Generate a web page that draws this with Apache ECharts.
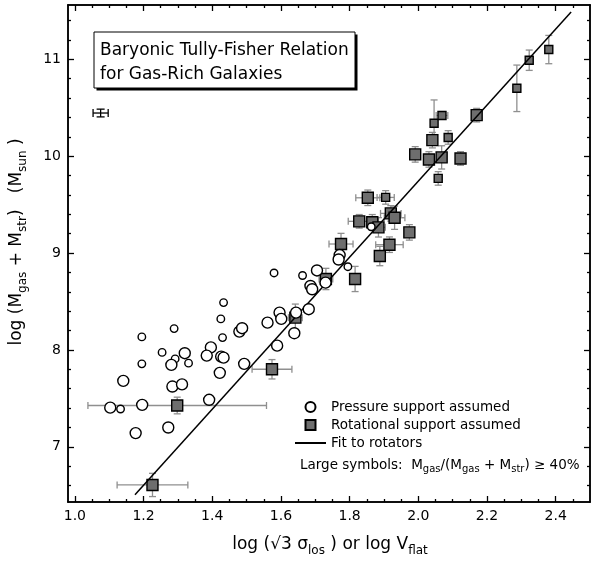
<!DOCTYPE html>
<html><head><meta charset="utf-8">
<script src="https://cdn.jsdelivr.net/npm/echarts@6/dist/echarts.min.js"></script>
<style>html,body{margin:0;padding:0;background:#fff}#c{width:595px;height:570px}</style>
</head><body><div id="c"></div>
<script>
// ---- tick values ----
const xMajorTicks = [1.0, 1.2, 1.4, 1.6, 1.8, 2.0, 2.2, 2.4];
const xMinorTicks = [1.05, 1.1, 1.15, 1.25, 1.3, 1.35, 1.45, 1.5, 1.55, 1.65, 1.7, 1.75, 1.85, 1.9, 1.95, 2.05, 2.1, 2.15, 2.25, 2.3, 2.35, 2.45];
const yMajorTicks = [7, 8, 9, 10, 11];
const yMinorTicks = [6.6, 6.8, 7.2, 7.4, 7.6, 7.8, 8.2, 8.4, 8.6, 8.8, 9.2, 9.4, 9.6, 9.8, 10.2, 10.4, 10.6, 10.8, 11.2, 11.4];

// ---- pressure-supported galaxies (open circles) ----
const circX = [1.433,1.425,1.289,1.479,1.487,1.195,1.430,1.254,1.320,1.396,1.384,1.426,1.433,1.292,1.281,1.331,1.195,1.493,1.141,1.422,1.284,1.312,1.391,1.103,1.133,1.196,1.177,1.272,1.589,1.580,1.663,1.705,1.771,1.768,1.795,1.686,1.691,1.730,1.596,1.601,1.561,1.644,1.681,1.639,1.863];
const circY = [8.488,8.320,8.220,8.189,8.224,8.134,8.127,7.974,7.966,8.026,7.941,7.931,7.920,7.907,7.845,7.863,7.856,7.856,7.680,7.763,7.622,7.644,7.485,7.404,7.390,7.433,7.141,7.199,8.044,8.794,8.768,8.820,8.979,8.933,8.859,8.660,8.626,8.694,8.385,8.320,8.281,8.385,8.420,8.172,9.271];
const circBig = [0,0,0,1,1,0,0,0,1,1,1,1,1,0,1,0,0,1,1,1,1,1,1,1,0,1,1,1,1,0,0,1,1,1,0,1,1,1,1,1,1,1,1,1,0];

// ---- rotation-supported galaxies (grey squares) ----
const sqX = [1.226,1.298,1.574,1.642,1.731,1.816,1.775,1.888,1.916,1.974,1.828,1.866,1.884,1.920,1.931,1.853,1.905,1.991,2.031,2.068,2.123,2.058,2.041,2.046,2.069,2.087,2.170,2.287,2.323,2.380];
const sqY = [6.606,7.426,7.800,8.333,8.732,8.732,9.093,8.969,9.086,9.213,9.327,9.317,9.265,9.409,9.364,9.570,9.574,10.018,9.966,9.987,9.976,9.770,10.165,10.340,10.420,10.193,10.423,10.700,10.990,11.100];
const sqXErr = [0.103,0.26,0.058,0.02,0.02,0,0.035,0,0.04,0,0.032,0,0.02,0.03,0.03,0.035,0.025,0,0,0,0,0,0,0,0.017,0,0,0,0,0];
const sqYErrLo = [0.12,0.086,0.10,0.14,0.11,0.13,0.11,0.10,0.08,0.08,0.07,0.08,0.10,0.08,0.12,0.08,0.07,0.08,0.08,0.12,0.07,0.07,0.08,0.14,0.04,0.07,0.07,0.24,0.105,0.146];
const sqYErrHi = [0.12,0.086,0.10,0.14,0.11,0.13,0.11,0.10,0.08,0.08,0.07,0.08,0.10,0.08,0.12,0.08,0.07,0.08,0.08,0.12,0.07,0.07,0.08,0.24,0.04,0.07,0.07,0.24,0.105,0.146];
const sqBig = [1,1,1,1,1,1,1,1,1,1,1,1,1,1,1,1,0,1,1,1,1,0,1,0,0,0,1,0,0,0];

// ---- fit to rotators (end points) ----
const fitX = [1.175, 2.445];
const fitY = [6.505, 11.488];

// ---- representative error bar ----
const refX = [1.075];
const refY = [10.445];
const refXErr = [0.022];
const refYErr = [0.04];

const FONT = 'DejaVu Sans';
const X_MIN = 0.98, X_MAX = 2.5, Y_MIN = 6.43, Y_MAX = 11.56;

function errRender(color, cap) {
  return function (params, api) {
    const x = api.value(0), y = api.value(1);
    const xl = api.value(2), xh = api.value(3), yl = api.value(4), yh = api.value(5);
    const st = { stroke: color, lineWidth: 1.3, fill: null };
    const ch = [];
    if (xh > xl) {
      const a = api.coord([xl, y]), b = api.coord([xh, y]);
      ch.push({ type: 'line', shape: { x1: a[0], y1: a[1], x2: b[0], y2: b[1] }, style: st });
      ch.push({ type: 'line', shape: { x1: a[0], y1: a[1] - cap, x2: a[0], y2: a[1] + cap }, style: st });
      ch.push({ type: 'line', shape: { x1: b[0], y1: b[1] - cap, x2: b[0], y2: b[1] + cap }, style: st });
    }
    if (yh > yl) {
      const a = api.coord([x, yl]), b = api.coord([x, yh]);
      ch.push({ type: 'line', shape: { x1: a[0], y1: a[1], x2: b[0], y2: b[1] }, style: st });
      ch.push({ type: 'line', shape: { x1: a[0] - cap, y1: a[1], x2: a[0] + cap, y2: a[1] }, style: st });
      ch.push({ type: 'line', shape: { x1: b[0] - cap, y1: b[1], x2: b[0] + cap, y2: b[1] }, style: st });
    }
    return { type: 'group', children: ch };
  };
}

const sqErrData = sqX.map((x, i) => [x, sqY[i], x - sqXErr[i], x + sqXErr[i], sqY[i] - sqYErrLo[i], sqY[i] + sqYErrHi[i]]);
const refErrData = refX.map((x, i) => [x, refY[i], x - refXErr[i], x + refXErr[i], refY[i] - refYErr[i], refY[i] + refYErr[i]]);

function xAx(pos, ticks, len, showLabel) {
  return {
    type: 'value', min: X_MIN, max: X_MAX, position: pos,
    axisLine: { show: true, onZero: false, lineStyle: { color: '#000', width: 1.5 } },
    axisTick: { show: true, inside: true, length: len, customValues: ticks, lineStyle: { color: '#000', width: 1.3 } },
    axisLabel: showLabel ? { show: true, customValues: ticks, formatter: v => v.toFixed(1), margin: 7, fontSize: 14, color: '#000', fontFamily: FONT } : { show: false },
    splitLine: { show: false }
  };
}
function yAx(pos, ticks, len, showLabel) {
  return {
    type: 'value', min: Y_MIN, max: Y_MAX, position: pos,
    axisLine: { show: true, onZero: false, lineStyle: { color: '#000', width: 1.5 } },
    axisTick: { show: true, inside: true, length: len, customValues: ticks, lineStyle: { color: '#000', width: 1.3 } },
    axisLabel: showLabel ? { show: true, customValues: ticks, formatter: v => String(v), margin: 7, fontSize: 14, color: '#000', fontFamily: FONT } : { show: false },
    splitLine: { show: false }
  };
}

const subRich = {
  n: { fontSize: 17, fontFamily: FONT, color: '#000', lineHeight: 23 },
  s: { fontSize: 12, fontFamily: FONT, color: '#000', lineHeight: 13, verticalAlign: 'bottom' }
};
const legRich = {
  n: { fontSize: 13.5, fontFamily: FONT, color: '#000', lineHeight: 19 },
  s: { fontSize: 10, fontFamily: FONT, color: '#000', lineHeight: 11, verticalAlign: 'bottom' }
};

const chart = echarts.init(document.getElementById('c'), null, { renderer: 'canvas' });
chart.setOption({
  animation: false,
  backgroundColor: '#fff',
  grid: { left: 68, right: 5, top: 5, bottom: 68, containLabel: false },
  xAxis: [xAx('bottom', xMajorTicks, 6, true), xAx('bottom', xMinorTicks, 3, false), xAx('top', xMajorTicks, 6, false), xAx('top', xMinorTicks, 3, false)],
  yAxis: [yAx('left', yMajorTicks, 6, true), yAx('left', yMinorTicks, 3, false), yAx('right', yMajorTicks, 6, false), yAx('right', yMinorTicks, 3, false)],
  legend: {
    orient: 'vertical', left: 294, top: 400, padding: 0, itemWidth: 31, itemHeight: 10, itemGap: 4,
    selectedMode: false,
    textStyle: { fontSize: 13.5, fontFamily: FONT, color: '#000' },
    data: [
      { name: 'Pressure support assumed' },
      { name: 'Rotational support assumed', icon: 'path://M0,0L10,0L10,10L0,10Z' },
      { name: 'Fit to rotators', itemStyle: { color: 'rgba(0,0,0,0)', borderColor: 'rgba(0,0,0,0)', opacity: 0 } }
    ]
  },
  series: [
    { type: 'custom', name: 'sqerr', renderItem: errRender('#8f8f8f', 3.5), data: sqErrData, encode: { x: 0, y: 1 }, z: 1, silent: true, clip: false },
    { type: 'custom', name: 'referr', renderItem: errRender('#000', 4), data: refErrData, encode: { x: 0, y: 1 }, z: 1, silent: true, clip: false },
    {
      name: 'Rotational support assumed', type: 'scatter', z: 2,
      data: sqX.map((x, i) => [x, sqY[i]]),
      symbol: 'rect',
      symbolSize: (v, p) => sqBig[p.dataIndex] ? 11 : 8,
      itemStyle: { color: '#6e6e6e', borderColor: '#000', borderWidth: 1.4, opacity: 1 }
    },
    {
      name: 'Fit to rotators', type: 'line', z: 3,
      data: fitX.map((x, i) => [x, fitY[i]]),
      symbol: 'none', lineStyle: { color: '#000', width: 1.5 }, itemStyle: { color: '#000' }
    },
    {
      name: 'Pressure support assumed', type: 'scatter', z: 4,
      data: circX.map((x, i) => [x, circY[i]]),
      symbol: 'circle',
      symbolSize: (v, p) => circBig[p.dataIndex] ? 11 : 7.5,
      itemStyle: { color: '#fff', borderColor: '#000', borderWidth: 1.4, opacity: 1 }
    }
  ],
  graphic: [
    { type: 'rect', shape: { x: 96.5, y: 34.5, width: 261, height: 56 }, style: { fill: '#000' }, z: 10 },
    { type: 'rect', shape: { x: 94, y: 32, width: 261, height: 56 }, style: { fill: '#fff', stroke: '#000', lineWidth: 1 }, z: 11 },
    { type: 'text', x: 100, y: 51, style: { text: 'Baryonic Tully-Fisher Relation', fontSize: 17, fontFamily: FONT, fill: '#000', verticalAlign: 'middle' }, z: 12 },
    { type: 'text', x: 100, y: 75, style: { text: 'for Gas-Rich Galaxies', fontSize: 17, fontFamily: FONT, fill: '#000', verticalAlign: 'middle' }, z: 12 },
    { type: 'text', x: 300, y: 465, style: { text: '{n|Large symbols:  M}{s|gas}{n|/(M}{s|gas}{n| + M}{s|str}{n|) ≥ 40%}', rich: legRich, verticalAlign: 'middle' }, z: 12 },
    { type: 'text', x: 330, y: 545, style: { text: '{n|log (√3 σ}{s|los}{n| ) or log V}{s|flat}', rich: subRich, align: 'center', verticalAlign: 'middle' }, z: 12 },
    { type: 'text', x: 17, y: 242, rotation: Math.PI / 2, style: { text: '{n|log (M}{s|gas}{n| + M}{s|str}{n|)   (M}{s|sun}{n| )}', rich: subRich, align: 'center', verticalAlign: 'middle' }, z: 12 }
  ]
});
</script>
</body></html>
